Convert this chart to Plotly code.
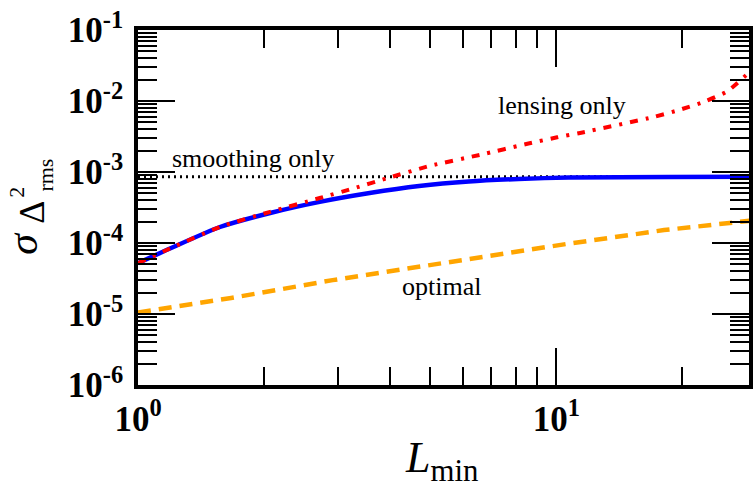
import plotly.graph_objects as go

# ---------------- data ----------------
smooth_L = [1.0, 30.0]
smooth_vals = [8.6e-4, 8.6e-4]

combined_L = [1.0, 1.2, 1.57, 2.07, 2.72, 3.58, 4.70, 6.18, 8.12, 10.7, 18.5, 30.0]
combined_vals = [5.2e-5, 8.5e-5, 1.68e-4, 2.65e-4, 3.8e-4, 5.06e-4, 6.35e-4,
                 7.35e-4, 7.97e-4, 8.37e-4, 8.5e-4, 8.6e-4]

lensing_L = [1.0, 1.2, 1.57, 2.07, 2.72, 3.28, 3.92, 4.99, 6.56, 8.63, 10.05,
             11.4, 17.1, 19.7, 22.6, 25.7, 28.9, 30.0]
lensing_vals = [5.2e-5, 8.5e-5, 1.68e-4, 2.75e-4, 4.3e-4, 5.9e-4, 8.1e-4, 1.22e-3,
                1.74e-3, 2.54e-3, 3.08e-3, 3.55e-3, 5.96e-3, 7.5e-3, 9.8e-3,
                1.38e-2, 2.5e-2, 2.9e-2]

optimal_L = [1.0, 1.67, 2.92, 5.57, 10.6, 18.1, 28.9, 30.0]
optimal_vals = [1.05e-5, 1.68e-5, 3.0e-5, 5.4e-5, 9.7e-5, 1.52e-4, 2.04e-4, 2.1e-4]

x_major = [1, 10]
x_major_text = ["10<sup>0</sup>", "10<sup>1</sup>"]
x_minor = [2, 3, 4, 5, 6, 7, 8, 9, 20]

y_major = [1e-6, 1e-5, 1e-4, 1e-3, 1e-2, 1e-1]
y_major_text = ["10<sup>-6</sup>", "10<sup>-5</sup>", "10<sup>-4</sup>",
                "10<sup>-3</sup>", "10<sup>-2</sup>", "10<sup>-1</sup>"]
y_minor = [m * 10.0 ** e for e in range(-6, -1) for m in range(2, 10)]

# ---------------- layout geometry ----------------
W, H = 753, 485
ML, MT, MB, MR = 138, 30, 100, 0
PW, PH = W - ML - MR, H - MT - MB


def paper(px, py):
    return (px - ML) / PW, (MT + PH - py) / PH


SERIF = "Liberation Serif"

fig = go.Figure()
fig.add_trace(go.Scatter(x=smooth_L, y=smooth_vals, mode="lines",
                         line=dict(color="black", width=3, dash="2px,4px"),
                         showlegend=False))
fig.add_trace(go.Scatter(x=optimal_L, y=optimal_vals, mode="lines",
                         line=dict(color="#FFA500", width=4.5, dash="13px,8px"),
                         showlegend=False))
fig.add_trace(go.Scatter(x=combined_L, y=combined_vals, mode="lines",
                         line=dict(color="#0000FF", width=4.5, shape="spline",
                                   smoothing=0.6),
                         showlegend=False))
fig.add_trace(go.Scatter(x=lensing_L, y=lensing_vals, mode="lines",
                         line=dict(color="#FF0000", width=4, dash="8px,8px,3px,8px",
                                   shape="spline", smoothing=0.6),
                         showlegend=False))

axis_common = dict(
    type="log", showgrid=False, zeroline=False,
    showline=True, linecolor="black", linewidth=3.5,
    mirror="allticks", ticks="inside", tickcolor="black", tickwidth=1.8,
    tickfont=dict(family=SERIF, size=35, color="black", weight="bold"),
)

fig.update_xaxes(
    **axis_common,
    range=[0, 1.4608],
    tickmode="array", tickvals=x_major, ticktext=x_major_text, ticklen=37,
    ticklabelstandoff=0,
    minor=dict(tickmode="array", tickvals=x_minor, ticks="inside", ticklen=18,
               tickwidth=1.8, tickcolor="black", showgrid=False),
)
fig.update_yaxes(
    **axis_common,
    range=[-6, -1],
    tickmode="array", tickvals=y_major, ticktext=y_major_text, ticklen=37,
    ticklabelstandoff=4,
    minor=dict(tickmode="array", tickvals=y_minor, ticks="inside", ticklen=19,
               tickwidth=1.8, tickcolor="black", showgrid=False),
)

annots = [
    ("smoothing only", 254, 158, 26, 0),
    ("lensing only", 565, 105, 26, 0),
    ("optimal", 443, 286, 26, 0),
    ("<i>L</i><sub>min</sub>", 443, 460, 44, 0),
    ("<i>σ</i>", 22, 243, 42, -90),
    ("Δ", 31, 212, 36, -90),
    ("2", 16, 192, 22, -90),
    ("rms", 44, 175, 22, -90),
]
for text, px, py, size, ang in annots:
    ax_, ay_ = paper(px, py)
    fig.add_annotation(text=text, x=ax_, y=ay_, xref="paper", yref="paper",
                       showarrow=False, xanchor="center", yanchor="middle",
                       textangle=ang,
                       font=dict(family=SERIF, size=size, color="black"))

fig.update_layout(
    width=W, height=H, autosize=False,
    margin=dict(l=ML, r=MR, t=MT, b=MB, pad=0),
    paper_bgcolor="white", plot_bgcolor="white",
)

fig.write_html("out.html",
               config={"displayModeBar": False},
               post_script="document.body.style.margin='0';"
                           "document.body.style.overflow='hidden';")
